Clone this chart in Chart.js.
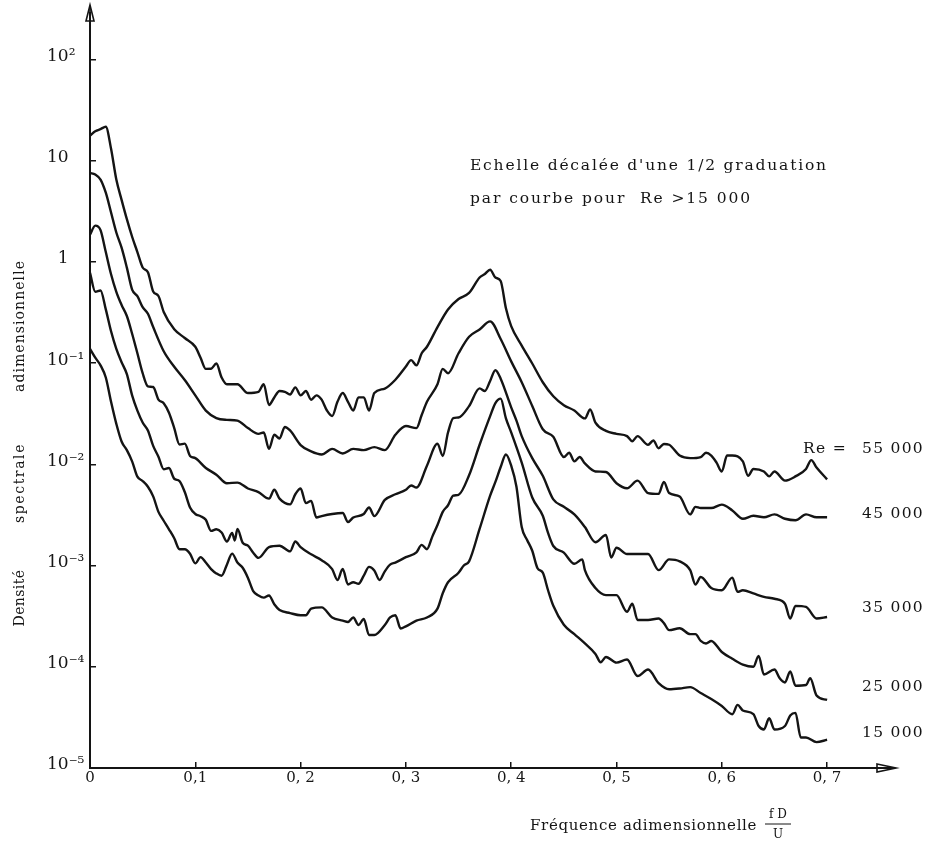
<!DOCTYPE html>
<html>
<head>
<meta charset="utf-8">
<script src="https://cdn.jsdelivr.net/npm/chart.js@4.4.1/dist/chart.umd.min.js"></script>
<style>
html,body{margin:0;padding:0;background:#fff;}
#wrap{width:928px;height:844px;}
</style>
</head>
<body>
<div id="wrap"><canvas id="c" width="928" height="844"></canvas></div>
<script>
// ---------- DATA ----------
// Re = 55 000
const freqA = [0,0.005,0.01,0.015,0.02,0.025,0.03,0.035,0.04,0.045,0.05,0.055,0.06,0.065,0.07,0.08,0.09,0.10,0.105,0.11,0.115,0.12,0.125,0.13,0.14,0.15,0.16,0.165,0.17,0.175,0.18,0.185,0.19,0.195,0.20,0.205,0.21,0.215,0.22,0.225,0.23,0.235,0.24,0.245,0.25,0.255,0.26,0.265,0.27,0.28,0.29,0.30,0.305,0.31,0.315,0.32,0.33,0.34,0.35,0.36,0.37,0.375,0.38,0.385,0.39,0.395,0.40,0.41,0.42,0.43,0.44,0.45,0.46,0.47,0.475,0.48,0.49,0.50,0.51,0.515,0.52,0.53,0.535,0.54,0.545,0.55,0.56,0.57,0.58,0.585,0.59,0.595,0.60,0.605,0.61,0.62,0.625,0.63,0.64,0.645,0.65,0.66,0.67,0.68,0.685,0.69,0.70];
const specA = [17.7,19.5,20.5,21.6,13.1,6.5,4.1,2.64,1.77,1.25,0.88,0.79,0.51,0.46,0.32,0.216,0.177,0.145,0.113,0.0877,0.088,0.099,0.072,0.0618,0.0618,0.0506,0.052,0.0618,0.0386,0.0458,0.053,0.052,0.049,0.0576,0.048,0.053,0.0435,0.048,0.0435,0.034,0.030,0.0414,0.0506,0.0414,0.034,0.0458,0.0458,0.034,0.0506,0.056,0.0684,0.0923,0.107,0.095,0.125,0.145,0.227,0.339,0.43,0.493,0.70,0.759,0.836,0.70,0.647,0.348,0.232,0.149,0.099,0.0647,0.047,0.0384,0.034,0.0284,0.0348,0.0258,0.0214,0.020,0.019,0.0169,0.019,0.0156,0.0172,0.0144,0.0159,0.0156,0.0122,0.0115,0.0118,0.013,0.0122,0.0104,0.0085,0.0122,0.0122,0.0107,0.0077,0.009,0.0085,0.0076,0.0085,0.0069,0.0076,0.009,0.011,0.0093,0.0071];

// Re = 45 000
const freqB = [0,0.005,0.01,0.015,0.02,0.025,0.03,0.035,0.04,0.045,0.05,0.055,0.06,0.07,0.08,0.09,0.10,0.11,0.12,0.13,0.14,0.15,0.16,0.165,0.17,0.175,0.18,0.185,0.19,0.20,0.21,0.22,0.23,0.24,0.25,0.26,0.27,0.28,0.29,0.30,0.31,0.315,0.32,0.33,0.335,0.34,0.35,0.36,0.37,0.38,0.39,0.40,0.41,0.42,0.43,0.44,0.45,0.455,0.46,0.465,0.47,0.48,0.49,0.50,0.51,0.52,0.53,0.54,0.545,0.55,0.56,0.57,0.575,0.58,0.59,0.60,0.61,0.62,0.63,0.64,0.65,0.66,0.67,0.68,0.69,0.70];
const specB = [7.55,7.3,6.5,4.82,3.07,1.95,1.38,0.877,0.532,0.458,0.357,0.307,0.227,0.131,0.092,0.068,0.048,0.0339,0.0286,0.0275,0.027,0.0228,0.020,0.0206,0.0142,0.0196,0.018,0.0234,0.0216,0.0155,0.0134,0.0125,0.0142,0.0128,0.0142,0.0138,0.0148,0.0138,0.0196,0.0239,0.0228,0.0307,0.0414,0.0618,0.0877,0.0794,0.125,0.182,0.215,0.258,0.173,0.104,0.0647,0.0377,0.0222,0.0187,0.0118,0.013,0.0107,0.0118,0.0102,0.0085,0.0084,0.0065,0.0058,0.0069,0.0052,0.0051,0.0067,0.0052,0.0048,0.0032,0.0038,0.0037,0.0037,0.004,0.0035,0.0029,0.0031,0.003,0.0032,0.0029,0.0028,0.0032,0.003,0.003];

// Re = 35 000
const freqC = [0,0.005,0.01,0.015,0.02,0.025,0.03,0.035,0.04,0.045,0.05,0.055,0.06,0.065,0.07,0.075,0.08,0.085,0.09,0.095,0.10,0.11,0.12,0.13,0.14,0.15,0.16,0.17,0.175,0.18,0.19,0.195,0.20,0.205,0.21,0.215,0.22,0.23,0.24,0.245,0.25,0.26,0.265,0.27,0.28,0.29,0.30,0.305,0.31,0.32,0.33,0.335,0.34,0.345,0.35,0.36,0.37,0.375,0.38,0.385,0.39,0.40,0.405,0.41,0.42,0.43,0.44,0.45,0.46,0.47,0.48,0.49,0.495,0.50,0.51,0.52,0.53,0.54,0.55,0.56,0.57,0.575,0.58,0.59,0.60,0.61,0.615,0.62,0.63,0.64,0.65,0.66,0.665,0.67,0.68,0.69,0.70];
const specC = [1.86,2.28,2.06,1.25,0.755,0.506,0.375,0.292,0.195,0.125,0.0794,0.0589,0.058,0.0435,0.0402,0.0323,0.0228,0.0157,0.016,0.0121,0.0115,0.0092,0.0079,0.0065,0.0066,0.00577,0.00532,0.00458,0.0056,0.00458,0.00402,0.00506,0.00577,0.00414,0.00435,0.00298,0.00308,0.00323,0.0033,0.00269,0.00298,0.00323,0.00375,0.00308,0.00445,0.00506,0.0056,0.00618,0.0059,0.0097,0.016,0.0121,0.0206,0.0286,0.029,0.0376,0.0562,0.053,0.0666,0.0851,0.0701,0.0365,0.027,0.019,0.0115,0.0077,0.0045,0.0038,0.0032,0.0024,0.0017,0.002,0.0012,0.0015,0.0013,0.0013,0.0013,0.0009,0.00115,0.0011,0.0009,0.00065,0.00077,0.0006,0.00057,0.00076,0.00055,0.00057,0.00053,0.00049,0.00047,0.00042,0.0003,0.0004,0.00039,0.0003,0.00031];

// Re = 25 000
const freqD = [0,0.005,0.01,0.015,0.02,0.025,0.03,0.035,0.04,0.045,0.05,0.055,0.06,0.065,0.07,0.075,0.08,0.085,0.09,0.095,0.10,0.105,0.11,0.115,0.12,0.125,0.13,0.135,0.1375,0.14,0.145,0.15,0.155,0.16,0.17,0.18,0.19,0.195,0.20,0.21,0.22,0.23,0.235,0.24,0.245,0.25,0.255,0.26,0.265,0.27,0.275,0.28,0.285,0.29,0.30,0.31,0.315,0.32,0.325,0.33,0.335,0.34,0.345,0.35,0.36,0.37,0.38,0.385,0.39,0.395,0.40,0.41,0.42,0.43,0.435,0.44,0.45,0.46,0.4675,0.47,0.48,0.49,0.50,0.51,0.515,0.52,0.53,0.54,0.545,0.55,0.56,0.57,0.575,0.58,0.585,0.59,0.60,0.61,0.62,0.63,0.635,0.64,0.65,0.655,0.66,0.665,0.67,0.68,0.684,0.69,0.70];
const specD = [0.778,0.506,0.521,0.339,0.206,0.138,0.102,0.0778,0.048,0.0339,0.0259,0.0216,0.0152,0.0119,0.00895,0.0092,0.0072,0.00684,0.00532,0.00375,0.00323,0.00307,0.00283,0.0022,0.00228,0.00212,0.00173,0.0021,0.00177,0.0023,0.00168,0.00157,0.00134,0.00119,0.00152,0.00157,0.00138,0.00173,0.00152,0.00129,0.00113,0.000923,0.00072,0.000923,0.00065,0.000684,0.00066,0.000794,0.00097,0.000895,0.00072,0.000877,0.00102,0.00107,0.00121,0.00135,0.0016,0.00145,0.00192,0.00251,0.00339,0.00394,0.00491,0.005,0.0078,0.0156,0.0299,0.0403,0.0446,0.0284,0.0207,0.0104,0.0047,0.0031,0.0021,0.00156,0.00134,0.00104,0.00115,0.0009,0.0006,0.00051,0.00051,0.00035,0.00042,0.00029,0.00029,0.0003,0.00027,0.00023,0.00024,0.00021,0.00021,0.00018,0.00017,0.00018,0.00014,0.00012,0.000105,0.0001,0.000128,8.4e-5,9.4e-5,7.7e-5,7.0e-5,9.0e-5,6.5e-5,6.6e-5,7.7e-5,5.2e-5,4.7e-5];

// Re = 15 000
const freqE = [0,0.005,0.01,0.015,0.02,0.025,0.03,0.035,0.04,0.045,0.05,0.055,0.06,0.065,0.07,0.075,0.08,0.085,0.09,0.095,0.10,0.105,0.11,0.115,0.12,0.125,0.13,0.135,0.14,0.145,0.15,0.155,0.16,0.165,0.17,0.175,0.18,0.19,0.20,0.205,0.21,0.22,0.23,0.24,0.245,0.25,0.255,0.26,0.265,0.27,0.28,0.285,0.29,0.295,0.30,0.31,0.32,0.33,0.335,0.34,0.35,0.355,0.36,0.37,0.38,0.385,0.39,0.395,0.40,0.405,0.41,0.415,0.42,0.425,0.43,0.435,0.44,0.45,0.46,0.47,0.48,0.485,0.49,0.50,0.51,0.52,0.53,0.54,0.55,0.56,0.57,0.58,0.59,0.60,0.61,0.615,0.62,0.63,0.635,0.64,0.645,0.65,0.66,0.665,0.67,0.675,0.68,0.69,0.70];
const specE = [0.138,0.113,0.095,0.072,0.0414,0.0251,0.0168,0.0138,0.0107,0.00755,0.00684,0.006,0.00482,0.00339,0.00277,0.00228,0.00186,0.00145,0.00145,0.00131,0.00105,0.00121,0.00107,0.000923,0.000836,0.000794,0.00102,0.00131,0.00107,0.00095,0.000755,0.00056,0.000506,0.000482,0.000506,0.000414,0.000364,0.000339,0.000323,0.000323,0.000375,0.000386,0.000307,0.000286,0.000277,0.000307,0.000259,0.000296,0.000206,0.000206,0.000259,0.000307,0.000323,0.000239,0.000251,0.000286,0.000307,0.000375,0.000532,0.000684,0.00085,0.001,0.0011,0.0023,0.0049,0.0067,0.0094,0.0125,0.0097,0.006,0.0024,0.0018,0.0014,0.00094,0.00085,0.00057,0.0004,0.00026,0.00021,0.00017,0.000134,0.000111,0.000125,0.00011,0.000118,8.1e-5,9.4e-5,6.9e-5,6.0e-5,6.1e-5,6.3e-5,5.5e-5,4.8e-5,4.1e-5,3.4e-5,4.2e-5,3.7e-5,3.4e-5,2.6e-5,2.4e-5,3.1e-5,2.4e-5,2.6e-5,3.3e-5,3.5e-5,2.0e-5,2.0e-5,1.8e-5,1.9e-5];

const seriesNames = ['55 000', '45 000', '35 000', '25 000', '15 000'];
const xTickValues = [0, 0.1, 0.2, 0.3, 0.4, 0.5, 0.6, 0.7];
const xTickLabels = ['0', '0,1', '0, 2', '0, 3', '0, 4', '0, 5', '0, 6', '0, 7'];
const yTickValues = [1e-5, 1e-4, 1e-3, 1e-2, 1e-1, 1, 10, 100];
const yTickLabels = ['10\u207B\u2075', '10\u207B\u2074', '10\u207B\u00B3', '10\u207B\u00B2', '10\u207B\u00B9', '  1', '10', '10\u00B2'];

// ---------- CHART ----------
const FONT = "'DejaVu Serif', 'Liberation Serif', serif";
Chart.defaults.font.family = FONT;
Chart.defaults.color = '#161616';

const freqs = [freqA, freqB, freqC, freqD, freqE];
const specs = [specA, specB, specC, specD, specE];
const datasets = seriesNames.map((name, k) => ({
  label: 'Re = ' + name,
  data: freqs[k].slice(0, Math.min(freqs[k].length, specs[k].length)).map((f, i) => ({x: f, y: specs[k][i]})),
  borderColor: '#141414',
  borderWidth: 2.4,
  pointRadius: 0,
  fill: false,
  cubicInterpolationMode: 'monotone',
  clip: false
}));

// label anchors (in data units) for the Re labels at the right
const reLabelAnchors = [0.01425, 0.00326, 0.000377, 6.27e-5, 2.2e-5];

// draw text spread to a target width (typewriter-like spacing)
function fitText(ctx, text, x, y, width) {
  try { ctx.letterSpacing = '0px'; } catch (e) {}
  const base = ctx.measureText(text).width;
  const n = Array.from(text).length;
  const ls = n > 0 ? (width - base) / n : 0;
  try { ctx.letterSpacing = ls.toFixed(2) + 'px'; } catch (e) {}
  ctx.fillText(text, x, y);
  try { ctx.letterSpacing = '0px'; } catch (e) {}
}

const decor = {
  id: 'decor',
  afterDraw(chart) {
    const ctx = chart.ctx;
    const xs = chart.scales.x, ys = chart.scales.y;
    const ca = chart.chartArea;
    ctx.save();
    ctx.strokeStyle = '#141414';
    ctx.fillStyle = '#141414';
    ctx.lineWidth = 1.6;
    // y axis arrow
    const x0 = xs.getPixelForValue(0);
    ctx.beginPath();
    ctx.moveTo(x0, ca.top); ctx.lineTo(x0, 6); ctx.stroke();
    ctx.beginPath();
    ctx.moveTo(x0 - 4, 21); ctx.lineTo(x0, 5); ctx.lineTo(x0 + 4, 21); ctx.closePath(); ctx.stroke();
    // x axis arrow
    const yb = ys.getPixelForValue(1e-5);
    ctx.beginPath();
    ctx.moveTo(ca.right - 16, yb - 4); ctx.lineTo(ca.right + 3, yb); ctx.lineTo(ca.right - 16, yb + 4); ctx.closePath(); ctx.stroke();

    ctx.textBaseline = 'middle';
    ctx.textAlign = 'left';
    // annotation
    ctx.font = '15.5px ' + FONT;
    fitText(ctx, "Echelle d\u00E9cal\u00E9e d'une 1/2 graduation", 470, 166, 358);
    fitText(ctx, 'par courbe pour  Re >15 000', 470, 199, 282);

    // Re labels
    ctx.font = '15.5px ' + FONT;
    seriesNames.forEach((name, k) => {
      const y = ys.getPixelForValue(reLabelAnchors[k]);
      fitText(ctx, name, 862, y, 62);
      if (k === 0) fitText(ctx, 'Re =', 803, y, 44);
    });

    // x title
    ctx.font = '15px ' + FONT;
    fitText(ctx, 'Fr\u00E9quence adimensionnelle', 530, 826, 227);
    ctx.textAlign = 'center';
    ctx.font = '12px ' + FONT;
    ctx.fillText('f D', 778, 815);
    ctx.fillText('U', 778, 835);
    ctx.lineWidth = 1;
    ctx.beginPath(); ctx.moveTo(765, 824); ctx.lineTo(791, 824); ctx.stroke();

    // y title (rotated, words spread out)
    ctx.font = '14px ' + FONT;
    const words = [['Densit\u00E9', 598, 57], ['spectrale', 483, 80], ['adimensionnelle', 326, 132]];
    words.forEach(([w, cy, wd]) => {
      ctx.save();
      ctx.translate(20, cy);
      ctx.rotate(-Math.PI / 2);
      ctx.textAlign = 'left';
      fitText(ctx, w, -wd / 2, 0, wd);
      ctx.restore();
    });
    ctx.restore();
  }
};

new Chart(document.getElementById('c'), {
  type: 'line',
  data: { datasets },
  plugins: [decor],
  options: {
    responsive: false,
    animation: false,
    devicePixelRatio: 1,
    layout: { padding: { left: 47, top: 12, right: 35, bottom: 0 } },
    plugins: { legend: { display: false }, tooltip: { enabled: false } },
    scales: {
      x: {
        type: 'linear',
        min: 0,
        max: 0.7626,
        afterBuildTicks: s => { s.ticks = xTickValues.map(v => ({ value: v })); },
        afterFit: s => { s.height = 76; },
        ticks: {
          autoSkip: false, maxRotation: 0, padding: 7, color: '#161616',
          font: { size: 15 },
          callback: (v) => { const i = xTickValues.findIndex(t => Math.abs(t - v) < 1e-9); return i >= 0 ? xTickLabels[i] : ''; }
        },
        grid: { drawOnChartArea: false, drawTicks: true, tickLength: -6, color: '#141414', lineWidth: 1.5 },
        border: { display: true, color: '#141414', width: 2 }
      },
      y: {
        type: 'logarithmic',
        min: 1e-5,
        max: 286,
        afterBuildTicks: s => { s.ticks = yTickValues.map(v => ({ value: v })); },
        afterFit: s => { s.width = 43; },
        ticks: {
          autoSkip: false, crossAlign: 'far', color: '#161616', labelOffset: -3,
          font: { size: 17 },
          callback: (v) => { const i = yTickValues.findIndex(t => Math.abs(Math.log10(t) - Math.log10(v)) < 1e-6); return i >= 0 ? yTickLabels[i] : ''; }
        },
        grid: { drawOnChartArea: false, drawTicks: true, tickLength: -6, color: '#141414', lineWidth: 1.5 },
        border: { display: true, color: '#141414', width: 2 }
      }
    }
  }
});
</script>
</body>
</html>
